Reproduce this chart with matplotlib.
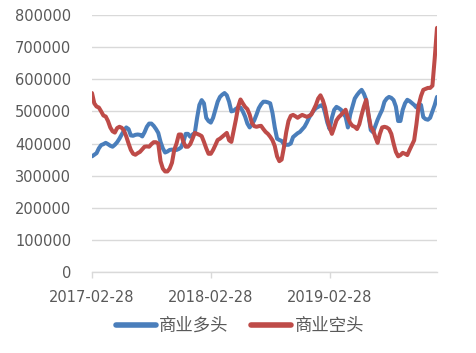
import matplotlib
matplotlib.use("Agg")
import matplotlib.pyplot as plt
import numpy as np

# weekly values (units: contracts), starting 2017-02-28
long_k = [360, 365, 370, 385, 395, 398, 402, 398, 393, 390, 396, 404, 415, 428, 440, 450, 445, 425, 424, 427,
          428, 427, 422, 435, 452, 462, 462, 455, 445, 433, 405, 385, 372, 375, 380, 381, 380, 380, 383, 388,
          405, 430, 430, 421, 428, 433, 480, 520, 535, 525, 480, 470, 465, 480, 505, 530, 545, 552, 557, 550,
          530, 500, 502, 508, 512, 512, 500, 484, 462, 450, 460, 472, 490, 510, 522, 530, 530, 528, 525, 495,
          450, 415, 411, 408, 398, 396, 396, 400, 420, 426, 432, 436, 444, 452, 465, 480, 492, 502, 510, 514,
          518, 520, 495, 465, 445, 480, 505, 514, 510, 505, 493, 483, 450, 490, 515, 540, 551, 560, 567, 555,
          536, 490, 442, 435, 455, 474, 490, 505, 530, 540, 545, 542, 535, 515, 470, 470, 505, 525, 536, 532,
          526, 520, 512, 522, 520, 482, 476, 474, 480, 500, 520, 545]
short_k = [557, 525, 515, 512, 500, 487, 484, 470, 450, 438, 434, 448, 452, 449, 440, 422, 400, 380, 368, 365,
           370, 374, 382, 390, 391, 390, 398, 404, 404, 400, 345, 322, 313, 313, 322, 340, 380, 400, 428, 428,
           405, 390, 390, 398, 415, 433, 430, 427, 423, 405, 385, 368, 368, 380, 395, 411, 415, 421, 427, 433,
           410, 405, 440, 475, 515, 537, 525, 514, 507, 490, 464, 454, 452, 454, 455, 445, 436, 430, 421, 410,
           392, 360, 345, 350, 388, 435, 470, 486, 489, 485, 480, 485, 489, 486, 483, 486, 490, 505, 520, 540,
           550, 535, 512, 475, 450, 430, 450, 472, 482, 489, 497, 505, 480, 464, 455, 452, 445, 460, 489, 515,
           536, 490, 452, 442, 420, 402, 430, 450, 452, 450, 445, 430, 400, 374, 360, 364, 371, 368, 364, 380,
           395, 410, 460, 520, 548, 567, 570, 573, 573, 580, 665, 760]
commercial_long = [v * 1000 for v in long_k]
commercial_short = [v * 1000 for v in short_k]

tick_positions = [0, 52, 104]
tick_labels = ["2017-02-28", "2018-02-28", "2019-02-28"]
series_names = ["商业多头", "商业空头"]
y_ticks = list(range(0, 800001, 100000))

plt.rcParams['font.family'] = ['DejaVu Sans', 'Noto Sans CJK SC']

fig = plt.figure(figsize=(4.76, 3.53), dpi=100)
ax = fig.add_axes([92/476, 81/353, 345/476, 257/353])

x = np.arange(len(commercial_long))
ax.plot(x, commercial_long, color="#4A7EBB", lw=2.9, label=series_names[0], solid_capstyle="round", solid_joinstyle="round")
ax.plot(x, commercial_short, color="#BE4B48", lw=2.9, label=series_names[1], solid_capstyle="round", solid_joinstyle="round")

ax.set_xlim(0, len(x) - 1)
ax.set_ylim(0, 800000)
ax.set_yticks(y_ticks)
ax.set_yticklabels([str(v) for v in y_ticks])
ax.set_xticks(tick_positions)
ax.set_xticklabels(tick_labels)

ax.grid(axis="y", color="#D9D9D9", lw=1)
ax.set_axisbelow(True)
for s in ["left", "right", "top"]:
    ax.spines[s].set_visible(False)
ax.spines["bottom"].set_color("#D9D9D9")
ax.spines["bottom"].set_linewidth(1)

ax.tick_params(axis="y", length=0, pad=15, labelsize=10.5, labelcolor="#595959")
ax.tick_params(axis="x", length=4, width=1, color="#D9D9D9", pad=9, labelsize=10.5, labelcolor="#595959")

leg = fig.legend(loc="center", bbox_to_anchor=(240/476, 1 - 326/353), ncol=2, frameon=False,
                 prop={"family": ["Noto Sans CJK SC"], "size": 12.5}, handlelength=2.3,
                 handletextpad=0.2, columnspacing=1.3)
for t in leg.get_texts():
    t.set_color("#595959")
for h in leg.legend_handles:
    h.set_linewidth(4)

fig.savefig("out.png", dpi=100)
